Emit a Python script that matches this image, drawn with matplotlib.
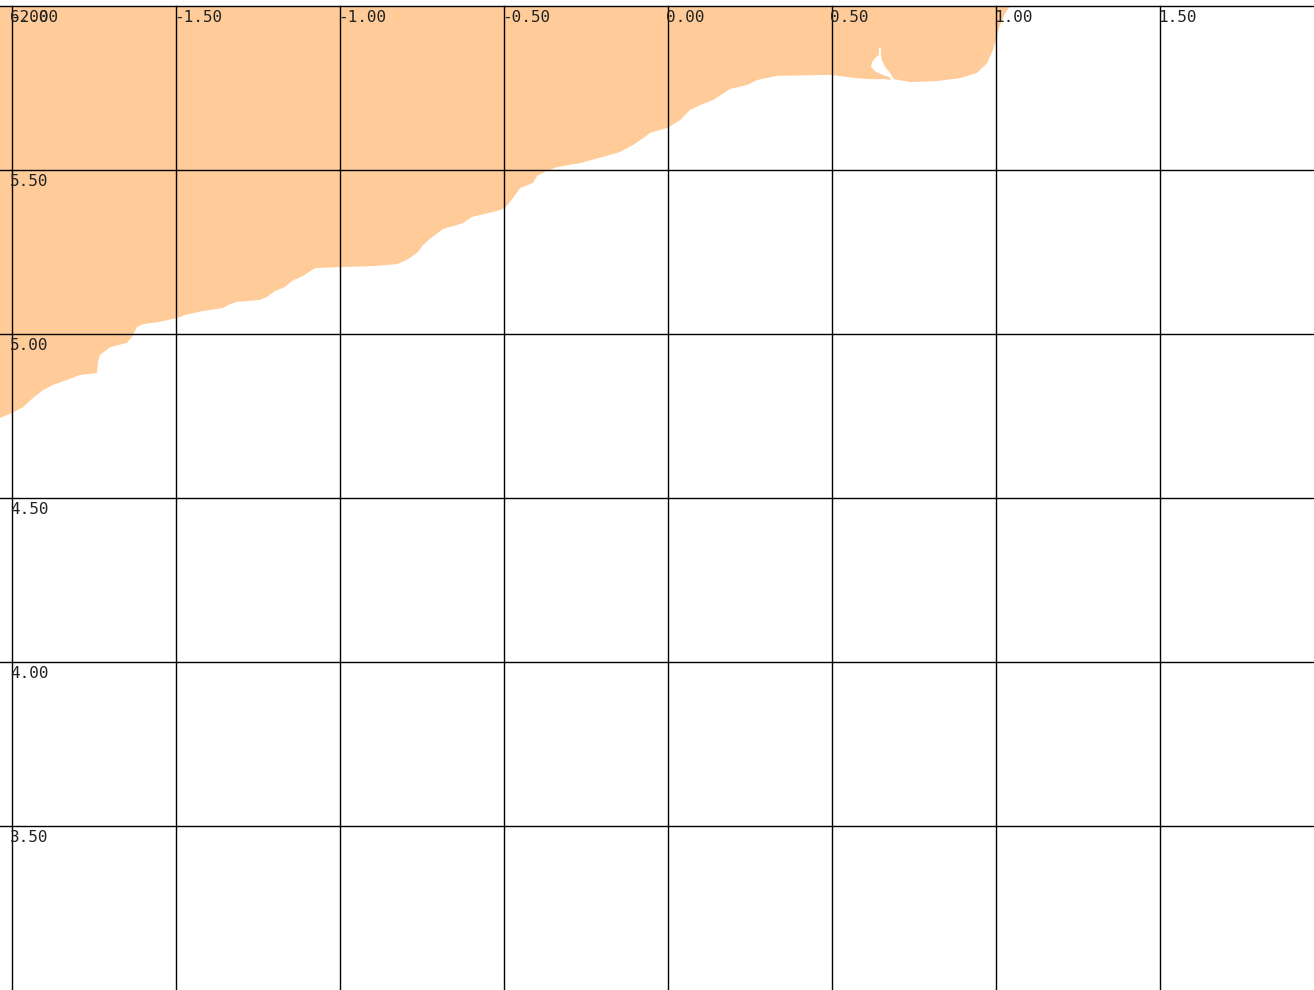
import numpy as np
import matplotlib
matplotlib.use("Agg")
import matplotlib.pyplot as plt
from matplotlib.transforms import offset_copy

# -----------------------------------
# Coastline (lon, lat) - land fill lies north of it
# -----------------------------------
coast_lon = [-2.037, -2.000, -1.966, -1.936, -1.905, -1.875, -1.832, -1.793, -1.741, -1.738,
             -1.732, -1.701, -1.649, -1.634, -1.619, -1.601, -1.549, -1.497, -1.473, -1.418,
             -1.357, -1.335, -1.314, -1.244, -1.223, -1.198, -1.168, -1.146, -1.113, -1.076,
             -1.000, -0.899, -0.826, -0.796, -0.765, -0.747, -0.726, -0.686, -0.625, -0.598,
             -0.521, -0.497, -0.482, -0.466, -0.451, -0.412, -0.399, -0.369, -0.338, -0.268,
             -0.198, -0.146, -0.107, -0.070, -0.055, -0.003, 0.037, 0.067, 0.098, 0.137,
             0.189, 0.241, 0.271, 0.332, 0.494, 0.576, 0.610, 0.665, 0.680,
             # lagoon opening just behind the shore
             0.674, 0.655, 0.634, 0.619, 0.622, 0.631, 0.643, 0.643, 0.649, 0.649,
             0.652, 0.662, 0.677, 0.689,
             0.738, 0.820, 0.890, 0.942, 0.973, 0.991, 1.000, 1.009, 1.027, 1.043]
coast_lat = [4.744, 4.759, 4.777, 4.805, 4.829, 4.845, 4.860, 4.875, 4.881, 4.915,
             4.936, 4.960, 4.973, 4.991, 5.021, 5.030, 5.037, 5.049, 5.058, 5.070,
             5.079, 5.091, 5.098, 5.104, 5.113, 5.131, 5.143, 5.162, 5.177, 5.201,
             5.204, 5.207, 5.213, 5.226, 5.247, 5.271, 5.290, 5.320, 5.338, 5.357,
             5.375, 5.384, 5.402, 5.424, 5.445, 5.460, 5.482, 5.497, 5.509, 5.521,
             5.540, 5.555, 5.576, 5.601, 5.613, 5.628, 5.652, 5.683, 5.698, 5.713,
             5.747, 5.759, 5.774, 5.787, 5.790, 5.780, 5.777, 5.777, 5.774,
             5.784, 5.790, 5.799, 5.814, 5.829, 5.841, 5.851, 5.872, 5.872, 5.851,
             5.835, 5.814, 5.796, 5.777,
             5.768, 5.771, 5.780, 5.796, 5.826, 5.866, 5.896, 5.933, 5.976, 6.000]

# closing corners outside the view (north / west)
close_lon = [1.060, -2.100, -2.100]
close_lat = [6.100, 6.100, 4.744]

x_ticks = [-2.0, -1.5, -1.0, -0.5, 0.0, 0.5, 1.0, 1.5]
y_ticks = [3.5, 4.0, 4.5, 5.0, 5.5, 6.0]

# -----------------------------------
# Plot
# -----------------------------------
fig = plt.figure(figsize=(13.14, 9.9), dpi=100)
ax = fig.add_axes([0, 0, 1, 984 / 990])
ax.set_xlim(-2 - 12 / 328, -2 + 1302 / 328)
ax.set_ylim(3.0, 6.0)
ax.axis("off")

ax.fill(coast_lon + close_lon, coast_lat + close_lat, color="#ffcc99", lw=0, zorder=1)

for xv in x_ticks:
    ax.axvline(xv, color="black", lw=1.0, zorder=2, clip_on=False)
for yv in y_ticks:
    ax.axhline(yv, color="black", lw=1.0, zorder=2, clip_on=False)

lab_kw = dict(fontsize=11.5, family="DejaVu Sans Mono", color="#222222",
              ha="left", va="center", zorder=3)
tr = offset_copy(ax.transData, fig=fig, x=-2, y=-11, units="dots")
for xv in x_ticks:
    ax.text(xv, 6.0, f"{xv:.2f}", transform=tr, **lab_kw)
for yv in y_ticks:
    ax.text(-2.0, yv, f"{yv:.2f}", transform=tr, **lab_kw)

fig.savefig("out.png", dpi=100)
